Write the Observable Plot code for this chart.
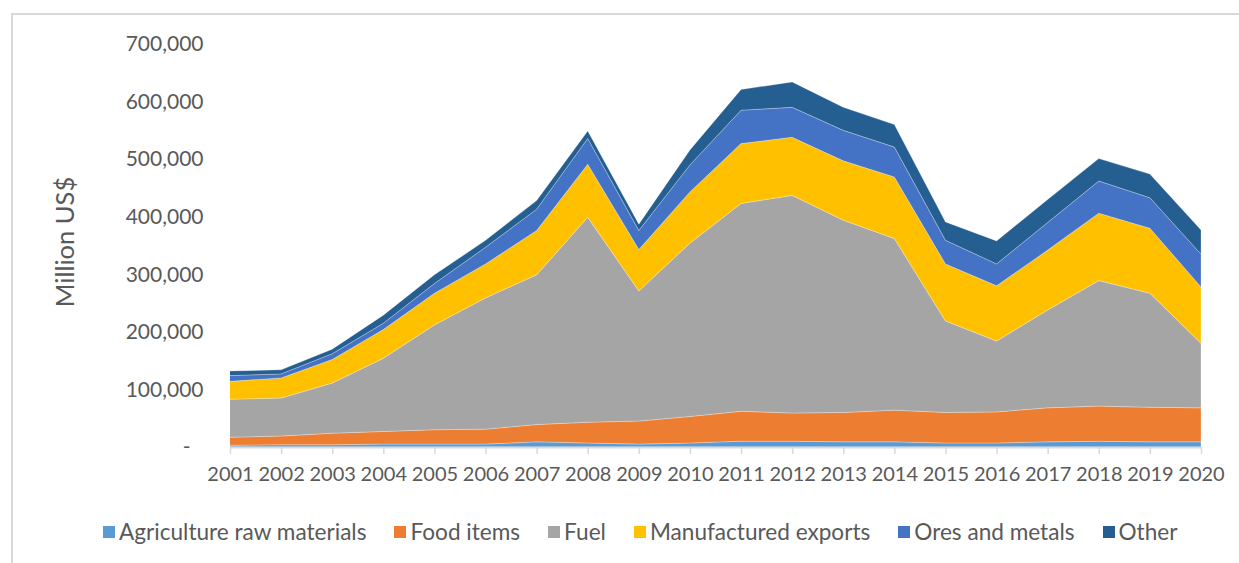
<!DOCTYPE html>
<html><head><meta charset="utf-8">
<script src="https://cdn.jsdelivr.net/npm/d3@7"></script>
<script src="https://cdn.jsdelivr.net/npm/@observablehq/plot@0.6"></script>
<style>
html,body{margin:0;padding:0;background:#fff;overflow:hidden;width:1239px;height:563px}
#wrap{position:relative;width:1239px;height:563px;overflow:hidden}
#frame{position:absolute;left:11px;top:13px;width:1320px;height:620px;border:2px solid #d9d9d9;box-sizing:border-box}
#chart{position:absolute;left:0;top:0}
#legend{position:absolute;left:103px;top:518px;display:flex;align-items:center;font-family:Lato,sans-serif;font-size:22.6px;color:#595959;white-space:nowrap}
#legend .item{display:flex;align-items:center;margin-right:28px}
#legend .sw{width:12px;height:12px;margin-right:4px}
</style></head>
<body><div id="wrap"><div id="frame"></div><div id="chart"></div><div id="legend"></div></div>
<script>
const years = [2001,2002,2003,2004,2005,2006,2007,2008,2009,2010,2011,2012,2013,2014,2015,2016,2017,2018,2019,2020];
const seriesNames = ["Agriculture raw materials","Food items","Fuel","Manufactured exports","Ores and metals","Other"];
const colors = ["#5B9BD5","#ED7D31","#A5A5A5","#FFC000","#4472C4","#255E91"];
// values in million US$
const agriculture = [3000,4000,4000,5000,5000,5000,9000,7000,5000,7000,10000,10000,9000,9000,7000,7000,9000,10000,9000,9000];
const foodItems   = [14000,15000,20000,22000,25000,26000,30000,36000,40000,46000,52000,49000,51000,55000,53000,54000,59000,61000,60000,59000];
const fuel        = [66000,66000,87000,127000,182000,228000,260000,356000,226000,301000,361000,378000,334000,298000,159000,123000,170000,218000,198000,112000];
const manufactured= [31000,35000,41000,50000,55000,59000,77000,92000,72000,89000,104000,101000,103000,107000,99000,96000,104000,117000,113000,98000];
const oresMetals  = [10000,7000,10000,11000,17000,29000,37000,45000,33000,47000,58000,52000,53000,52000,41000,38000,48000,56000,53000,57000];
const other       = [8000,7000,8000,14000,15000,12000,15000,13000,11000,26000,36000,44000,40000,39000,32000,40000,40000,39000,41000,42000];
const yTicks = [100000,200000,300000,400000,500000,600000,700000];

const allSeries = [agriculture, foodItems, fuel, manufactured, oresMetals, other];
const data = [];
allSeries.forEach((vals, si) => vals.forEach((v, i) => data.push({series: seriesNames[si], year: years[i], value: v})));

const font = "Lato, sans-serif";
const chart = Plot.plot({
  width: 1239,
  height: 505,
  marginTop: 44,
  marginBottom: 58,
  marginLeft: 230,
  marginRight: 38,
  style: {fontFamily: font, fontSize: "20px", color: "#595959", background: "transparent"},
  x: {type: "linear", domain: [2001, 2020]},
  y: {domain: [0, 700000]},
  color: {domain: seriesNames, range: colors},
  marks: [
    Plot.areaY(data, {x: "year", y: "value", fill: "series", z: "series", stroke: "white", strokeOpacity: 0.45, strokeWidth: 0.6}),
    Plot.ruleY([0], {stroke: "#d9d9d9", strokeWidth: 2}),
    Plot.axisX({ticks: years, tickFormat: d => String(d), tickSize: 7, tickPadding: 12, stroke: "#d9d9d9", strokeWidth: 1.5, fill: "#595959", label: null, fontSize: 20}),
    Plot.axisY({ticks: yTicks, tickFormat: d3.format(","), tickSize: 0, tickPadding: 27, label: null, fill: "#595959", fontSize: 21}),
    Plot.axisY({ticks: [0], tickFormat: () => "-", tickSize: 0, tickPadding: 40, label: null, fill: "#595959", fontSize: 21}),
    Plot.text(["Million US$"], {frameAnchor: "left", text: d => d, rotate: -90, dx: -165, dy: -4, fill: "#595959", fontSize: 25.5, textAnchor: "middle"})
  ]
});
document.getElementById("chart").appendChild(chart);

const legend = document.getElementById("legend");
seriesNames.forEach((name, i) => {
  const item = document.createElement("div");
  item.className = "item";
  const sw = document.createElement("span");
  sw.className = "sw";
  sw.style.background = colors[i];
  const label = document.createElement("span");
  label.textContent = name;
  item.appendChild(sw);
  item.appendChild(label);
  legend.appendChild(item);
});
</script></body></html>
